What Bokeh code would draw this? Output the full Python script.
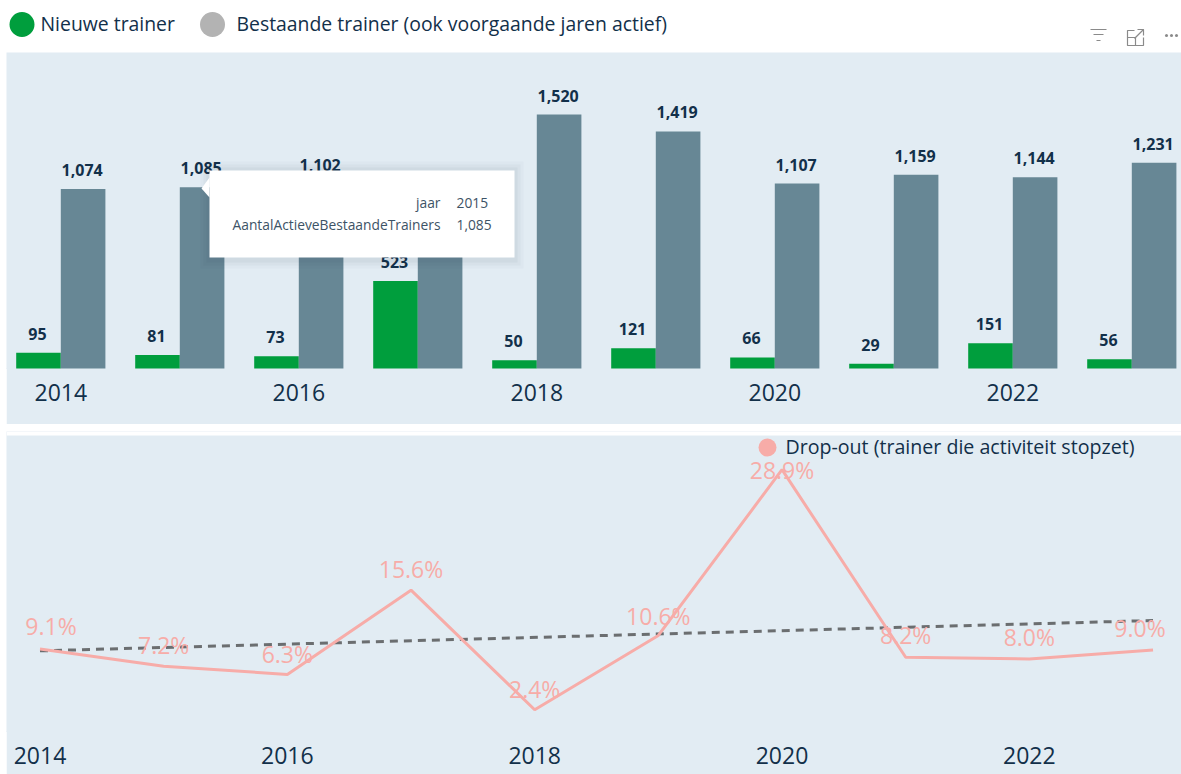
from bokeh.embed import file_html
from bokeh.resources import INLINE
from bokeh.plotting import figure
from bokeh.layouts import column
from bokeh.models import ColumnDataSource, FixedTicker, Spacer
from bokeh.core.properties import value

years = [2014, 2015, 2016, 2017, 2018, 2019, 2020, 2021, 2022, 2023]
new_trainers = [95, 81, 73, 523, 50, 121, 66, 29, 151, 56]
existing_trainers = [1074, 1085, 1102, 1000, 1520, 1419, 1107, 1159, 1144, 1231]
dropout = [9.1, 7.2, 6.3, 15.6, 2.4, 10.6, 28.9, 8.2, 8.0, 9.0]
trend_years = [2014, 2023]
trend_values = [8.9, 12.25]
tick_years = [2014, 2016, 2018, 2020, 2022]
legend_labels = ["Nieuwe trainer", "Bestaande trainer (ook voorgaande jaren actief)"]
dropout_legend = "Drop-out (trainer die activiteit stopzet)"
tip_keys = ["jaar", "AantalActieveBestaandeTrainers"]
tip_vals = ["2015", "1,085"]

FONT = value("Open Sans")
PANEL = "#e2ecf3"; GREEN = "#009e3d"; GREY = "#b3b3b3"; SLATE = "#678795"
INK = "#12304a"; PINK = "#f7aca8"
M = (0, 0, 0, 6)

# ---- strip above the panels (page-pixel coordinates)
strip = figure(width=1175, height=52, x_range=(6, 1181), y_range=(52, 0), output_backend="svg", margin=M,
               toolbar_location=None, min_border=0, outline_line_color=None,
               background_fill_color=None, border_fill_color="white")
strip.axis.visible = False
strip.grid.visible = False
strip.scatter([21.5, 212], [24, 24], size=[25, 25], color=[GREEN, GREY], line_color=None)
strip.text([40, 236], [23, 23], text=legend_labels, text_font=FONT, text_font_size="19.4px",
           text_color=INK, text_baseline="middle")
strip.multi_line([[1090, 1106], [1093, 1103], [1096, 1100]], [[29, 29], [34, 34], [40, 40]],
                 line_color="#8a8a8a", line_width=1.2)
strip.multi_line([[1134, 1127, 1127, 1143, 1143], [1127, 1135, 1135], [1134, 1143], [1137, 1143, 1143]],
                 [[30, 30, 45, 45, 37], [37, 37, 45], [38, 29], [29, 29, 35]],
                 line_color="#8a8a8a", line_width=1.2)
strip.scatter([1166, 1171, 1176], [35, 35, 35], size=3, color="#8a8a8a", line_color=None)

# ---- bars
BAR_UNIT = 119.0
bx = lambda px: 2014 + (px - 60.3) / BAR_UNIT
by = lambda py: (368 - py) / 0.1671
bars = figure(width=1175, height=372, x_range=(bx(6), bx(1181)), y_range=(0, by(52)), margin=M,
              output_backend="svg", toolbar_location=None, min_border=0, min_border_bottom=56,
              outline_line_color=None, background_fill_color=PANEL, border_fill_color=PANEL)
W = 44.6 / BAR_UNIT
src = ColumnDataSource(dict(
    x_new=[y - W / 2 for y in years], x_old=[y + W / 2 for y in years],
    new=new_trainers, old=existing_trainers,
    new_t=[f"{v:,}" for v in new_trainers], old_t=[f"{v:,}" for v in existing_trainers]))
bars.vbar("x_new", W, "new", 0, source=src, color=GREEN, line_color=None, level="overlay")
bars.vbar("x_old", W, "old", 0, source=src, color=SLATE, line_color=None, level="overlay")
for xc, yc, tc in (("x_new", "new", "new_t"), ("x_old", "old", "old_t")):
    bars.text(xc, yc, text=tc, source=src, text_font=FONT, text_font_size="16px", text_font_style="bold",
              text_color=INK, text_align="center", text_baseline="alphabetic", y_offset=-19, x_offset=-1,
              level="overlay")
bars.grid.visible = False
bars.yaxis.visible = False
bars.xaxis.ticker = FixedTicker(ticks=tick_years)
bars.xaxis.axis_line_color = PANEL
bars.xaxis.axis_line_width = 1
bars.xaxis.major_tick_line_color = None
bars.xaxis.minor_tick_line_color = None
bars.xaxis.major_label_standoff = 9
bars.xaxis.major_label_text_font = "Open Sans"
bars.xaxis.major_label_text_font_size = "23px"
bars.xaxis.major_label_text_color = INK

# tooltip
for grow, alpha in ((9, 0.025), (6, 0.03), (3, 0.04)):
    bars.quad(left=bx(209 - grow), right=bx(514 + grow), top=by(170 - grow), bottom=by(257 + grow + 2),
              color="#1f3a4d", alpha=alpha, line_color=None, level="overlay")
bars.patch([bx(209), bx(201), bx(209)], [by(177), by(188), by(197)], color="white", line_color=None, level="overlay")
bars.quad(left=bx(209), right=bx(514), top=by(170), bottom=by(257), color="white", line_color=None, level="overlay")
bars.text([bx(440)] * 2, [by(202), by(224)], text=tip_keys, text_font=FONT, text_font_size="13.8px",
          text_color="#3d5366", text_align="right", text_baseline="middle", level="overlay")
bars.text([bx(456)] * 2, [by(202), by(224)], text=tip_vals, text_font=FONT, text_font_size="13.8px",
          text_color="#3d5366", text_align="left", text_baseline="middle", level="overlay")

# ---- line (its canvas starts 4px above the panel, so the legend text has room)
LINE_UNIT = 123.67
lx = lambda px: 2014 + (px - 39.5) / LINE_UNIT
ly = lambda py: (731 - py) / 9.06
line = figure(width=1175, height=343, x_range=(lx(6), lx(1181)), y_range=(0, ly(431)), margin=M,
              output_backend="svg", toolbar_location=None, min_border=0, min_border_bottom=43,
              outline_line_color=None, background_fill_color=PANEL, border_fill_color=PANEL)
line.quad(left=lx(6), right=lx(1181), top=ly(431), bottom=ly(435), color="white", line_color=None)
line.line(trend_years, trend_values, line_color="#6b6e70", line_width=3, line_dash="8 6")
line.line(years, dropout, line_color=PINK, line_width=3)
dx = [0] * len(years); dx[0] = 11; dx[-1] = -13
dy = [-23, -21, -20, -21, -21, -19, 0, -22, -22, -22]
lsrc = ColumnDataSource(dict(x=years, y=dropout, t=[f"{v:.1f}%" for v in dropout], dx=dx, dy=dy))
line.text("x", "y", text="t", source=lsrc, x_offset="dx", y_offset="dy", text_font=FONT, text_font_size="23px",
          text_color=PINK, text_align="center", text_baseline="alphabetic")
line.scatter([lx(767)], [ly(447)], size=18, color=PINK, line_color=None)
line.text([lx(785)], [ly(446)], text=[dropout_legend], text_font=FONT, text_font_size="19.6px",
          text_color=INK, text_baseline="middle")
line.grid.visible = False
line.yaxis.visible = False
line.xaxis.ticker = FixedTicker(ticks=tick_years)
line.xaxis.axis_line_color = PANEL
line.xaxis.axis_line_width = 1
line.xaxis.major_tick_line_color = None
line.xaxis.minor_tick_line_color = None
line.xaxis.major_label_standoff = 9
line.xaxis.major_label_text_font = "Open Sans"
line.xaxis.major_label_text_font_size = "23px"
line.xaxis.major_label_text_color = INK

root = column(strip, bars, Spacer(height=7, width=1175, margin=M), line, spacing=0)
open("out.html", "w").write(file_html(root, INLINE))
